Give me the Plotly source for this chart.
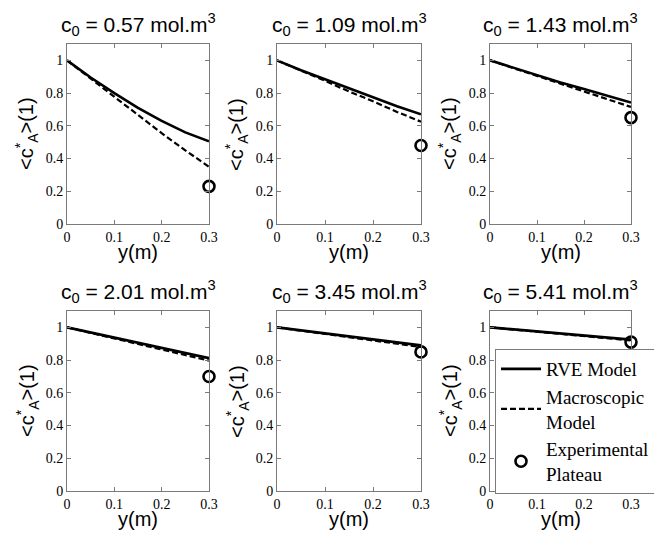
import plotly.graph_objects as go

# ---------------- data ----------------
y_pos = [0, 0.05, 0.1, 0.15, 0.2, 0.25, 0.3]
c0_labels = ["0.57", "1.09", "1.43", "2.01", "3.45", "5.41"]

rve_model = [
    [1.0, 0.895, 0.800, 0.710, 0.630, 0.560, 0.505],
    [1.0, 0.940, 0.885, 0.830, 0.775, 0.720, 0.670],
    [1.0, 0.955, 0.910, 0.865, 0.825, 0.782, 0.742],
    [1.0, 0.968, 0.936, 0.905, 0.874, 0.843, 0.812],
    [1.0, 0.982, 0.963, 0.945, 0.927, 0.908, 0.890],
    [1.0, 0.988, 0.975, 0.963, 0.950, 0.938, 0.925],
]
macro_model = [
    [1.0, 0.888, 0.775, 0.665, 0.555, 0.450, 0.350],
    [1.0, 0.935, 0.875, 0.810, 0.750, 0.685, 0.625],
    [1.0, 0.952, 0.905, 0.855, 0.810, 0.760, 0.715],
    [1.0, 0.966, 0.932, 0.898, 0.864, 0.830, 0.797],
    [1.0, 0.980, 0.960, 0.940, 0.920, 0.900, 0.880],
    [1.0, 0.987, 0.973, 0.960, 0.947, 0.933, 0.920],
]
exp_x = [0.3]
exp_plateau = [0.23, 0.48, 0.65, 0.70, 0.85, 0.91]

x_ticks = [0, 0.1, 0.2, 0.3]
x_ticktext = ["0", "0.1", "0.2", "0.3"]
y_ticks = [0, 0.2, 0.4, 0.6, 0.8, 1.0]
y_ticktext = ["0", "0.2", "0.4", "0.6", "0.8", "1"]

# ---------------- layout geometry ----------------
# the html page body has an 8px margin, so the figure is drawn 8px in
OFF = 8
W, H = 662 - OFF, 543 - OFF
col_px = [(67, 209), (277, 421), (490, 631)]   # window pixels
row_px = [(44, 224), (311, 491)]


def px_x(p):
    return (p - OFF) / W


def px_y(p):
    return 1 - (p - OFF) / H


SANS = "Arial, Liberation Sans, sans-serif"
SERIF = "Times New Roman, Liberation Serif, serif"
FRAME = "#7a7a7a"

fig = go.Figure()
annotations = []

for i in range(6):
    r, c = divmod(i, 3)
    ax_id = "" if i == 0 else str(i + 1)
    xd = [px_x(col_px[c][0]), px_x(col_px[c][1])]
    yd = [px_y(row_px[r][1]), px_y(row_px[r][0])]
    show = (i == 5)
    fig.add_trace(go.Scatter(
        x=y_pos, y=rve_model[i], mode="lines", name="RVE Model",
        line=dict(color="black", width=2.6), showlegend=show,
        xaxis="x" + ax_id, yaxis="y" + ax_id))
    fig.add_trace(go.Scatter(
        x=y_pos, y=macro_model[i], mode="lines", name="Macroscopic<br>Model",
        line=dict(color="black", width=2.2, dash="6px,3px"), showlegend=show,
        xaxis="x" + ax_id, yaxis="y" + ax_id))
    fig.add_trace(go.Scatter(
        x=exp_x, y=[exp_plateau[i]], mode="markers", name="Experimental<br>Plateau",
        marker=dict(symbol="circle-open", size=11, color="black",
                    line=dict(width=2.6, color="black")),
        cliponaxis=False, showlegend=show,
        xaxis="x" + ax_id, yaxis="y" + ax_id))

    common = dict(showline=True, linecolor=FRAME, linewidth=1, mirror="ticks",
                  ticks="inside", ticklen=4, tickcolor=FRAME, tickwidth=1,
                  showgrid=False, zeroline=False,
                  tickfont=dict(family=SERIF, size=14, color="black"))
    fig.update_layout(**{
        "xaxis" + ax_id: dict(domain=xd, range=[0, 0.3], tickvals=x_ticks,
                              ticktext=x_ticktext, anchor="y" + ax_id, **common),
        "yaxis" + ax_id: dict(domain=yd, range=[0, 1.1], tickvals=y_ticks,
                              ticktext=y_ticktext, anchor="x" + ax_id, **common),
    })

    cx = (col_px[c][0] + col_px[c][1]) / 2
    cy = (row_px[r][0] + row_px[r][1]) / 2
    # title
    annotations.append(dict(
        text="c<sub>0</sub> = " + c0_labels[i] + " mol.m<sup>3</sup>",
        x=px_x(cx), y=px_y(row_px[r][0] - 20), xref="paper", yref="paper",
        xanchor="center", yanchor="middle", showarrow=False,
        font=dict(family=SANS, size=21, color="black")))
    # x title
    annotations.append(dict(
        text="y(m)", x=px_x(cx), y=px_y(row_px[r][1] + 28),
        xref="paper", yref="paper", xanchor="center", yanchor="middle",
        showarrow=False, font=dict(family=SANS, size=20, color="black")))
    # y title
    annotations.append(dict(
        text="&lt;c<sup>*</sup><sub>A</sub>&gt;(1)", x=px_x(col_px[c][0] - 40),
        y=px_y(cy), xref="paper", yref="paper", xanchor="center",
        yanchor="middle", textangle=-90, showarrow=False,
        font=dict(family=SANS, size=20, color="black")))

fig.update_layout(
    width=W, height=H,
    margin=dict(l=0, r=0, t=0, b=0, autoexpand=False),
    paper_bgcolor="white", plot_bgcolor="white",
    annotations=annotations,
    legend=dict(x=px_x(495), y=px_y(349), xanchor="left", yanchor="top",
                bgcolor="white", bordercolor=FRAME, borderwidth=1,
                font=dict(family=SERIF, size=19, color="black"),
                itemwidth=40, tracegroupgap=0),
)

fig.write_html("out.html")
